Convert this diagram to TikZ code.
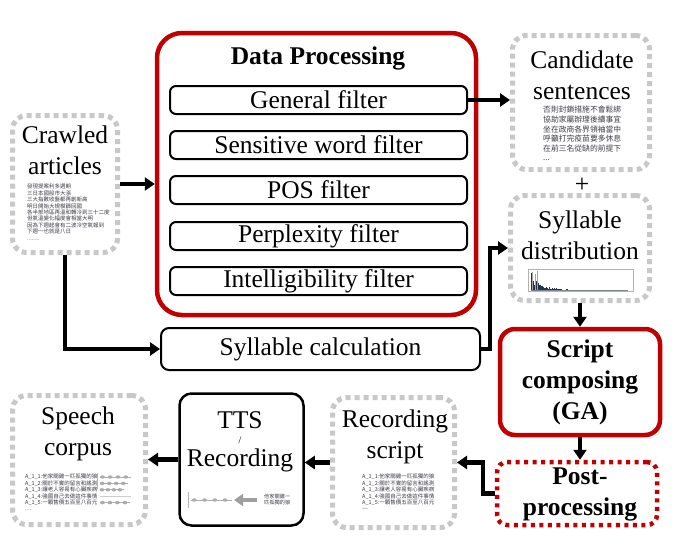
\documentclass[tikz,border=0pt]{standalone}
\usepackage{fontspec}
\setmainfont{Liberation Serif}
\newfontfamily\cjk{Noto Sans CJK TC}
\usetikzlibrary{arrows.meta,calc}
\definecolor{dred}{RGB}{192,0,0}
\definecolor{dotgray}{RGB}{200,200,200}
\definecolor{inkgray}{RGB}{60,60,70}
\definecolor{histc}{RGB}{40,50,75}

% a waveform strip: start x, y, length
\newcommand\wavrow[3]{%
  \draw[gray!65, line width=0.7pt] (#1,#2) -- ++(#3,0);
  \foreach \k in {0.08,0.33,0.58,0.83}
    \fill[gray!65] (#1+\k*#3,#2) ellipse (2.4pt and 1.7pt);
}

\tikzset{
  dotbox/.style={draw=dotgray, line width=5pt, dash pattern=on 5pt off 4pt,
                 rounded corners=14pt, inner sep=0pt},
  redbox/.style={draw=dred, line width=4.5pt, inner sep=0pt},
  reddots/.style={draw=dred, line width=4.5pt, dash pattern=on 4pt off 4.5pt,
                  rounded corners=10pt, inner sep=0pt},
  blackbox/.style={draw, line width=2pt, inner sep=0pt},
  filterbox/.style={blackbox, rounded corners=6pt, minimum width=297pt,
                    minimum height=28pt, font=\fontsize{25.5}{31}\selectfont},
  arr/.style={line width=4.5pt, -{Triangle[length=10pt,width=13pt]}},
  title/.style={font=\fontsize{25.5}{31}\selectfont, align=center, inner sep=0pt},
  btitle/.style={font=\fontsize{25.5}{31}\selectfont\bfseries, align=center, inner sep=0pt},
  cjktext/.style={font=\cjk\fontsize{5.5}{6.4}\selectfont, align=left,
                  inner sep=0pt, anchor=north west, text=inkgray},
}

\begin{document}
\begin{tikzpicture}[x=1pt,y=-1pt]
\useasboundingbox (0,0) rectangle (682,555);
\fill[white] (0,0) rectangle (682,555);

% ---------- boxes ----------
\node[dotbox, minimum width=105pt, minimum height=137pt] (crawled) at (65,184) {};
\node[redbox, rounded corners=25pt, minimum width=319pt, minimum height=282pt] (dp) at (316.5,174) {};
\node[dotbox, minimum width=137pt, minimum height=134pt] (cand) at (581,102.5) {};
\node[dotbox, minimum width=139pt, minimum height=105pt] (syldist) at (580,248) {};
\node[blackbox, rounded corners=8pt, minimum width=319pt, minimum height=42pt,
      font=\fontsize{25.5}{31}\selectfont] (sylcalc) at (320.5,349) {Syllable calculation};
\node[redbox, rounded corners=15pt, minimum width=160pt, minimum height=106pt] (script) at (580,382) {};
\node[reddots, minimum width=160pt, minimum height=63pt] (post) at (577,493.5) {};
\node[dotbox, minimum width=122pt, minimum height=130pt] (rec) at (393.5,462.5) {};
\node[blackbox, line width=2.5pt, rounded corners=12pt, minimum width=124pt, minimum height=132pt] (tts) at (241.5,459.5) {};
\node[dotbox, minimum width=133pt, minimum height=129pt] (speech) at (79,460) {};

% ---------- data processing ----------
\node[btitle] (dptitle) at (318,58) {Data Processing};
\node[filterbox] (gf)  at (318.5,100) {General filter};
\node[filterbox] (swf) at (318.5,145) {Sensitive word filter};
\node[filterbox] (pos) at (318.5,190) {POS filter};
\node[filterbox] (ppl) at (318.5,236) {Perplexity filter};
\node[filterbox] (itf) at (318.5,281) {Intelligibility filter};

% ---------- crawled articles ----------
\node[title] (crawledt) at (65,150) {Crawled\\articles};
\node[cjktext] (crawledtxt) at (27,184) {發現提案利多週期\\三日本國股市大漲\\三大指數收盤都再創新高\\明日開始大規模篩回國\\各半部地區再溫和轉冷到三十二度\\但氣溫變化幅度會相當大明\\因為下週起會有二波冷空氣報到\\下週一也就是八日\\........};

% ---------- candidate sentences ----------
\node[title] (candt) at (582,75) {Candidate\\sentences};
\node[cjktext, font=\cjk\fontsize{7.8}{9.6}\selectfont] (candtxt) at (543,106)
  {否則封鎖措施不會鬆綁\\協助家屬辦理後續事宜\\坐在政商各界領袖當中\\呼籲打完疫苗要多休息\\在前三名從缺的前提下\\...};
\node[title] (plus) at (582,185) {+};

% ---------- syllable distribution ----------
\node[title] (syldt) at (580,235) {Syllable\\distribution};
\draw[gray!60, line width=0.6pt] (528,269) rectangle (633,291);
\pgfmathsetseed{7}
\foreach \i in {0,...,85}{
  \pgfmathsetmacro\h{19*exp(-\i/12)*(0.3+0.7*rnd)+0.6}
  \draw[histc, line width=0.55pt] (531+\i*0.85,290.5) -- ++(0,-\h);
}
\foreach \sx/\sh in {532.5/19, 535/17, 537.5/20}
  \draw[gray!70, line width=0.6pt] (\sx,290.5) -- ++(0,-\sh);
\draw[histc!60, line width=0.4pt] (531,290.3) -- (628,290.3);

% ---------- script composing / post-processing ----------
\node[btitle] (scriptt) at (580,382) {Script\\composing\\(GA)};
\node[btitle] (postt) at (580,494) {Post-\\processing};

% ---------- recording script ----------
\node[title] (rect) at (395,437) {Recording\\script};
\node[cjktext] (rectxt) at (362,474)
  {A\_1\_1:他家關雞一匹孤獨的狼\\A\_1\_2:關於不實的留言和謠測\\A\_1\_3:讓老人容易有心臟疾病\\A\_1\_4:強國自己去做這件事情\\A\_1\_5:一顆售價五百至八百元\\---};

% ---------- TTS / recording ----------
\node[title] (ttst) at (240,420) {TTS};
\node[font=\fontsize{10}{10}\selectfont, inner sep=0pt] (slash) at (240,440) {/};
\node[title] (ttsr) at (240,460) {Recording};
\draw[gray!60, line width=0.8pt] (188,492) -- (188,508);
\wavrow{191}{500}{41}
\draw[gray!75, line width=4pt, -{Triangle[length=9pt,width=12pt]}] (257,500) -- (234,500);
\node[cjktext, font=\cjk\fontsize{5.2}{6.3}\selectfont] (ttstxt) at (264,494) {他家關雞一\\匹孤獨的狼};

% ---------- speech corpus ----------
\node[title] (speecht) at (78,434) {Speech\\corpus};
\node[cjktext] (speechtxt) at (25,474)
  {A\_1\_1:他家關雞一匹孤獨的狼\\A\_1\_2:關於不實的留言和謠測\\A\_1\_3:讓老人容易有心臟疾病\\A\_1\_4:強國自己去做這件事情\\A\_1\_5:一顆售價五百至八百元\\....};
\draw[gray!60, line width=0.7pt] (97,473) -- (97,489);
\wavrow{100}{477}{31}
\wavrow{100}{483.4}{28}
\wavrow{100}{489.8}{24}
\draw[gray!40, line width=0.6pt] (100,496.2) -- (131,496.2);
\wavrow{100}{502.6}{30}

% ---------- connectors ----------
\draw[arr] (crawled.east) -- (crawled.east -| dp.west);
\draw[arr] (gf.east) -- (gf.east -| cand.west);
\draw[arr] (crawled.south) |- (sylcalc.west);
\draw[arr] (sylcalc.east) -- ++(9,0) |- (syldist.west);
\draw[arr] (syldist.south -| script.north) -- (script.north);
\draw[arr] (script.south) -- (script.south |- post.north);
\draw[arr] (post.west) -- ++(-12,0) |- (rec.east);
\draw[arr] (rec.west) -- (rec.west -| tts.east);
\draw[arr] (tts.west) -- (tts.west -| speech.east);
\end{tikzpicture}
\end{document}
